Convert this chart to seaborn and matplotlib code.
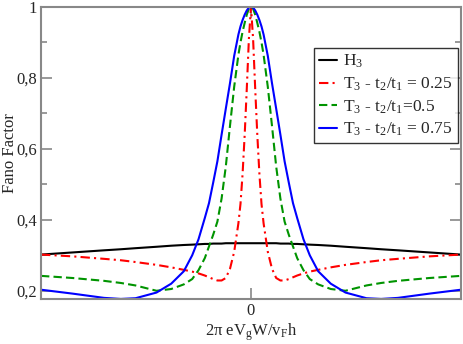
import seaborn as sns
import matplotlib.pyplot as plt
import pandas as pd

# Energy axis (arbitrary units, symmetric around 0).
energy = [-1.0, -0.85, -0.7, -0.62, -0.55, -0.45, -0.38, -0.32, -0.28, -0.25, -0.22, -0.2, -0.18,
          -0.16, -0.14, -0.12, -0.1, -0.08, -0.06, -0.05, -0.04, -0.03, -0.02, -0.01, 0.0,
          0.01, 0.02, 0.03, 0.04, 0.05, 0.06, 0.08, 0.1, 0.12, 0.14, 0.16, 0.18, 0.2, 0.22,
          0.25, 0.28, 0.32, 0.38, 0.45, 0.55, 0.62, 0.7, 0.85, 1.0]

fano_h3 = [0.302, 0.308, 0.314, 0.317, 0.320, 0.324, 0.327, 0.329, 0.330, 0.331, 0.332, 0.332, 0.333,
           0.333, 0.333, 0.334, 0.334, 0.334, 0.334, 0.334, 0.334, 0.334, 0.334, 0.334, 0.334,
           0.334, 0.334, 0.334, 0.334, 0.334, 0.334, 0.334, 0.334, 0.334, 0.333, 0.333, 0.333,
           0.332, 0.332, 0.331, 0.330, 0.329, 0.327, 0.324, 0.320, 0.317, 0.314, 0.308, 0.302]

fano_t3_025 = [0.302, 0.297, 0.290, 0.286, 0.281, 0.273, 0.266, 0.259, 0.254, 0.249, 0.243, 0.238, 0.233,
               0.229, 0.229, 0.236, 0.262, 0.310, 0.390, 0.445, 0.530, 0.640, 0.770, 0.910, 1.0,
               0.910, 0.770, 0.640, 0.530, 0.445, 0.390, 0.310, 0.262, 0.236, 0.229, 0.229, 0.233,
               0.238, 0.243, 0.249, 0.254, 0.259, 0.266, 0.273, 0.281, 0.286, 0.290, 0.297, 0.302]

fano_t3_05 = [0.242, 0.236, 0.228, 0.222, 0.215, 0.200, 0.205, 0.218, 0.233, 0.258, 0.292, 0.325, 0.358,
              0.395, 0.460, 0.550, 0.665, 0.775, 0.865, 0.900, 0.930, 0.955, 0.978, 0.995, 1.0,
              0.995, 0.978, 0.955, 0.930, 0.900, 0.865, 0.775, 0.665, 0.550, 0.460, 0.395, 0.358,
              0.325, 0.292, 0.258, 0.233, 0.218, 0.205, 0.200, 0.215, 0.222, 0.228, 0.236, 0.242]

fano_t3_075 = [0.203, 0.192, 0.180, 0.177, 0.179, 0.195, 0.220, 0.255, 0.300, 0.345, 0.405, 0.447, 0.505,
               0.565, 0.640, 0.713, 0.785, 0.862, 0.922, 0.945, 0.963, 0.978, 0.990, 0.998, 1.0,
               0.998, 0.990, 0.978, 0.963, 0.945, 0.922, 0.862, 0.785, 0.713, 0.640, 0.565, 0.505,
               0.447, 0.405, 0.345, 0.300, 0.255, 0.220, 0.195, 0.179, 0.177, 0.180, 0.192, 0.203]

labels = [r'H$_\mathregular{3}$',
          r'T$_\mathregular{3}$ - t$_\mathregular{2}$/t$_\mathregular{1}$ = 0.25',
          r'T$_\mathregular{3}$ - t$_\mathregular{2}$/t$_\mathregular{1}$=0.5',
          r'T$_\mathregular{3}$ - t$_\mathregular{2}$/t$_\mathregular{1}$ = 0.75']

sns.set_theme(style='ticks')
plt.rcParams['font.family'] = ['Liberation Serif', 'DejaVu Serif']
plt.rcParams['mathtext.fontset'] = 'custom'
plt.rcParams['mathtext.rm'] = 'Liberation Serif'
plt.rcParams['mathtext.it'] = 'Liberation Serif:italic'

df = pd.DataFrame({'energy': energy, 'h3': fano_h3, 't025': fano_t3_025,
                   't05': fano_t3_05, 't075': fano_t3_075})

fig = plt.figure(figsize=(4.63, 3.44), dpi=100)
ax = fig.add_axes([0.0886, 0.131, 0.907, 0.849])

# Column, colour and line style for each curve.
styles = [('h3', 'black', '-'),
          ('t025', '#ff0000', (0, (4.5, 2, 1, 2))),
          ('t05', '#009400', (0, (4, 2))),
          ('t075', '#0000ff', '-')]
for (col, color, ls), label in zip(styles, labels):
    sns.lineplot(x='energy', y=col, data=df, ax=ax, color=color, linewidth=1.5,
                 label=label, estimator=None, sort=False, linestyle=ls)

ax.set_xlim(-1, 1)
ax.set_ylim(0.177, 1.0)
ax.set_xticks([0])
ax.set_xticklabels(['0'])
ax.set_yticks([0.2, 0.4, 0.6, 0.8, 1.0])
ax.set_yticklabels(['0,2', '0,4', '0,6', '0,8', '1'])
ax.set_yticks([0.3, 0.5, 0.7, 0.9], minor=True)
ax.tick_params(axis='both', which='both', direction='in', color='#888888',
               top=True, right=True, labelsize=12, pad=3)
ax.tick_params(axis='both', which='major', length=8, width=1.2)
ax.tick_params(axis='both', which='minor', length=4, width=1.2)
for spine in ax.spines.values():
    spine.set_visible(True)
    spine.set_color('#888888')
    spine.set_linewidth(1.5)

ax.set_xlabel(r'2π eV$_\mathregular{g}$W/v$_\mathregular{F}$h', fontsize=12, labelpad=2)
ax.set_ylabel('Fano Factor', fontsize=12)
ax.yaxis.set_label_coords(-0.056, 0.5)

leg = ax.legend(loc='upper left', bbox_to_anchor=(0.65, 0.86), borderaxespad=0,
                fontsize=12.5, frameon=True, fancybox=False, handlelength=1.0,
                handletextpad=0.4, borderpad=0.3, labelspacing=0.3)
leg.get_frame().set_edgecolor('black')
leg.get_frame().set_linewidth(1.0)

plt.savefig('out.png', dpi=100)
